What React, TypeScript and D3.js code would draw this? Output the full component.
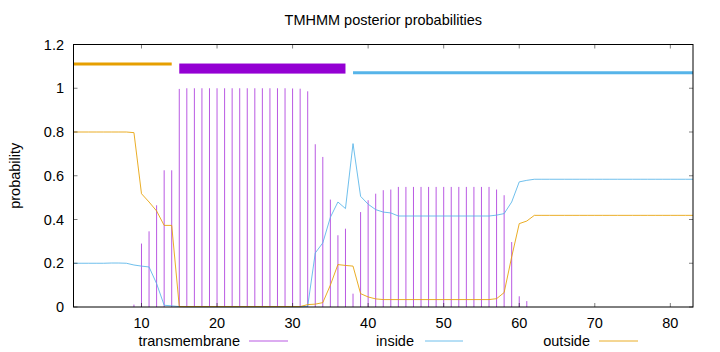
import React from "react";
import * as d3 from "d3";

// residue positions 1..83
const positions = [
  1, 2, 3, 4, 5, 6, 7, 8, 9, 10, 11, 12, 13, 14, 15, 16, 17, 18, 19, 20,
  21, 22, 23, 24, 25, 26, 27, 28, 29, 30, 31, 32, 33, 34, 35, 36, 37, 38, 39, 40,
  41, 42, 43, 44, 45, 46, 47, 48, 49, 50, 51, 52, 53, 54, 55, 56, 57, 58, 59, 60,
  61, 62, 63, 64, 65, 66, 67, 68, 69, 70, 71, 72, 73, 74, 75, 76, 77, 78, 79, 80,
  81, 82, 83,
];

const transmembrane = [
  0, 0, 0, 0, 0, 0, 0, 0, 0.011, 0.29, 0.346, 0.465, 0.625, 0.625, 0.997, 1.0, 1.0, 1.0, 1.0, 1.0,
  1.0, 1.0, 1.0, 1.0, 1.0, 1.0, 1.0, 1.0, 1.0, 0.999, 0.998, 0.986, 0.744, 0.686, 0.491, 0.328, 0.358, 0.061, 0.434, 0.488,
  0.518, 0.534, 0.537, 0.549, 0.549, 0.549, 0.549, 0.549, 0.549, 0.549, 0.549, 0.549, 0.549, 0.549, 0.549, 0.549, 0.537, 0.511, 0.297, 0.049,
  0.027, 0, 0, 0, 0, 0, 0, 0, 0, 0, 0, 0, 0, 0, 0, 0, 0, 0, 0, 0,
  0, 0, 0,
];

const inside = [
  0.2, 0.2, 0.2, 0.2, 0.2, 0.201, 0.201, 0.2, 0.192, 0.187, 0.183, 0.107, 0.008, 0.005, 0.002, 0.001, 0.001, 0.001, 0.001, 0.001,
  0.001, 0.001, 0.001, 0.001, 0.001, 0.001, 0.001, 0.001, 0.001, 0.001, 0.001, 0.003, 0.247, 0.293, 0.41, 0.48, 0.45, 0.747, 0.506, 0.47,
  0.445, 0.434, 0.43, 0.416, 0.416, 0.416, 0.416, 0.416, 0.416, 0.416, 0.416, 0.416, 0.416, 0.416, 0.416, 0.416, 0.42, 0.427, 0.48, 0.572,
  0.579, 0.584, 0.584, 0.584, 0.584, 0.584, 0.584, 0.584, 0.584, 0.584, 0.584, 0.584, 0.584, 0.584, 0.584, 0.584, 0.584, 0.584, 0.584, 0.584,
  0.584, 0.584, 0.584,
];

const outside = [
  0.8, 0.8, 0.8, 0.8, 0.8, 0.8, 0.8, 0.8, 0.797, 0.518, 0.48, 0.439, 0.373, 0.373, 0.002, 0.002, 0.002, 0.002, 0.002, 0.002,
  0.002, 0.002, 0.002, 0.002, 0.002, 0.002, 0.002, 0.002, 0.002, 0.002, 0.002, 0.011, 0.013, 0.02, 0.1, 0.194, 0.19, 0.187, 0.061, 0.046,
  0.037, 0.034, 0.034, 0.034, 0.034, 0.034, 0.034, 0.034, 0.034, 0.034, 0.034, 0.034, 0.034, 0.034, 0.034, 0.034, 0.038, 0.066, 0.229, 0.381,
  0.393, 0.419, 0.419, 0.419, 0.419, 0.419, 0.419, 0.419, 0.419, 0.419, 0.419, 0.419, 0.419, 0.419, 0.419, 0.419, 0.419, 0.419, 0.419, 0.419,
  0.419, 0.419, 0.419,
];

// predicted topology segments shown above the curves
const segOutside = [1, 14];
const segTM = [15, 37];
const segInside = [38, 83];

const xTicks = [10, 20, 30, 40, 50, 60, 70, 80];
const yTicks = [0, 0.2, 0.4, 0.6, 0.8, 1, 1.2];

const W = 720;
const H = 352;
const left = 73.5;
const right = 693;
const top = 44.5;
const bottom = 307;

const PURPLE = "#9400d3";
const BLUE = "#56b4e9";
const ORANGE = "#e69f00";
const FONT = "'Liberation Sans', Arial, sans-serif";

export default function App() {
  const x = d3.scaleLinear().domain([1, 83]).range([left, right]);
  const y = d3.scaleLinear().domain([0, 1.2]).range([bottom, top]);

  const line = d3
    .line<number>()
    .x((d, i) => x(positions[i]))
    .y((d) => y(d));

  const tickLen = 4;

  return (
    <svg
      width={W}
      height={H}
      style={{ position: "absolute", left: 0, top: 0, background: "#fff" }}
      fontFamily={FONT}
      fontSize={14.5}
    >
      <rect width={W} height={H} fill="#fff" />

      {/* title */}
      <text x={(left + right) / 2} y={25} textAnchor="middle">
        TMHMM posterior probabilities
      </text>

      {/* y label */}
      <text
        transform={`translate(20,${(top + bottom) / 2}) rotate(-90)`}
        textAnchor="middle"
      >
        probability
      </text>

      {/* transmembrane impulses */}
      {positions.map((p, i) =>
        transmembrane[i] > 0 ? (
          <line
            key={"tm" + p}
            x1={x(p)}
            x2={x(p)}
            y1={y(0)}
            y2={y(transmembrane[i])}
            stroke={PURPLE}
            strokeOpacity={0.65}
            strokeWidth={1}
          />
        ) : null
      )}

      {/* inside / outside lines */}
      <path d={line(inside) || ""} fill="none" stroke={BLUE} strokeWidth={1} strokeOpacity={0.85} />
      <path d={line(outside) || ""} fill="none" stroke={ORANGE} strokeWidth={1} strokeOpacity={0.85} />

      {/* topology bars */}
      <line
        x1={x(segOutside[0])}
        x2={x(segOutside[1])}
        y1={y(1.111)}
        y2={y(1.111)}
        stroke={ORANGE}
        strokeWidth={3}
      />
      <rect
        x={x(segTM[0])}
        y={y(1.113)}
        width={x(segTM[1]) - x(segTM[0])}
        height={y(1.067) - y(1.113)}
        fill={PURPLE}
      />
      <line
        x1={x(segInside[0])}
        x2={x(segInside[1])}
        y1={y(1.071)}
        y2={y(1.071)}
        stroke={BLUE}
        strokeWidth={3}
      />

      {/* ticks */}
      {xTicks.map((t) => (
        <g key={"xt" + t}>
          <line x1={x(t)} x2={x(t)} y1={bottom} y2={bottom - tickLen} stroke="#000" strokeOpacity={0.5} />
          <line x1={x(t)} x2={x(t)} y1={top} y2={top + tickLen} stroke="#000" strokeOpacity={0.5} />
          <text x={x(t)} y={328} textAnchor="middle">
            {t}
          </text>
        </g>
      ))}
      {yTicks.map((t) => (
        <g key={"yt" + t}>
          <line x1={left} x2={left + tickLen} y1={y(t)} y2={y(t)} stroke="#000" strokeOpacity={0.5} />
          <line x1={right} x2={right - tickLen} y1={y(t)} y2={y(t)} stroke="#000" strokeOpacity={0.5} />
          <text x={64} y={y(t) + 5} textAnchor="end">
            {t}
          </text>
        </g>
      ))}

      {/* border */}
      <rect
        x={left}
        y={top}
        width={right - left}
        height={bottom - top}
        fill="none"
        stroke="#000"
        strokeWidth={1}
      />

      {/* legend */}
      <g>
        <text x={240} y={346} textAnchor="end">transmembrane</text>
        <line x1={249} x2={288} y1={341} y2={341} stroke={PURPLE} strokeOpacity={0.65} />
        <text x={414} y={346} textAnchor="end">inside</text>
        <line x1={425} x2={463} y1={341} y2={341} stroke={BLUE} strokeOpacity={0.85} />
        <text x={590} y={346} textAnchor="end">outside</text>
        <line x1={599} x2={638} y1={341} y2={341} stroke={ORANGE} strokeOpacity={0.85} />
      </g>
    </svg>
  );
}
